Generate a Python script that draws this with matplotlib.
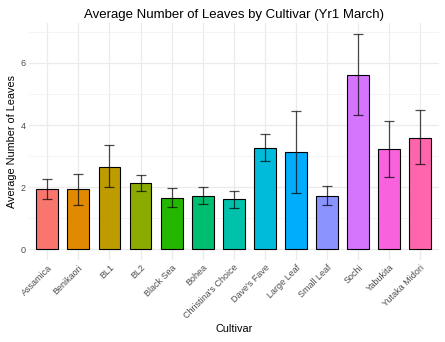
"""Average number of leaves by cultivar, bar chart with error bars"""
import numpy as np
from matplotlib import pyplot as plt

plt.rcParams['font.family'] = ['Liberation Sans', 'DejaVu Sans']

cultivars = ['Assamica', 'Benikaori', 'BL1', 'BL2', 'Black Sea', 'Bohea',
             "Christina's Choice", "Dave's Fave", 'Large Leaf', 'Small Leaf',
             'Sochi', 'Yabukita', 'Yutaka Midori']
mean_leaves = [1.94, 1.94, 2.66, 2.13, 1.66, 1.73, 1.61, 3.27, 3.13, 1.73, 5.61, 3.23, 3.59]
err_low = [1.61, 1.43, 2.01, 1.88, 1.38, 1.45, 1.34, 2.84, 1.83, 1.44, 4.32, 2.33, 2.76]
err_high = [2.26, 2.44, 3.35, 2.38, 1.97, 2.02, 1.88, 3.72, 4.45, 2.05, 6.92, 4.14, 4.47]
colors = ['#F8766D', '#E18A00', '#BE9C00', '#8CAB00', '#24B700', '#00BE70', '#00C1AB',
          '#00BBDA', '#00ACFC', '#8B93FF', '#D575FE', '#F962DD', '#FF65AC']

fig = plt.figure(figsize=(4.45, 3.42), dpi=100)
ax = fig.add_axes([0.0643, 0.239, 0.9222, 0.6926])

x = np.arange(len(cultivars))
mean = np.array(mean_leaves)
yerr = [mean - np.array(err_low), np.array(err_high) - mean]

ax.bar(x, mean, width=0.7, color=colors, edgecolor='black', linewidth=0.8, zorder=2)
ax.errorbar(x, mean, yerr=yerr, fmt='none', ecolor='black', alpha=0.7,
            elinewidth=0.9, capsize=3.3, capthick=0.9, zorder=3)

top = max(err_high)
ax.set_xlim(-0.6, len(cultivars) - 0.4)
ax.set_ylim(-0.05 * top, 1.05 * top)

ax.set_yticks([0, 2, 4, 6])
ax.set_yticks([1, 3, 5, 7], minor=True)
ax.set_xticks(x)
ax.set_xticklabels(cultivars, rotation=45, ha='right', rotation_mode='anchor')
ax.tick_params(axis='both', length=0, labelsize=6.5, labelcolor='#4D4D4D', pad=2)
ax.tick_params(which='minor', length=0)

ax.grid(True, which='major', color='#EBEBEB', linewidth=0.9, zorder=0)
ax.grid(True, which='minor', axis='y', color='#F2F2F2', linewidth=0.6, zorder=0)
ax.set_axisbelow(True)
for s in ax.spines.values():
    s.set_visible(False)

ax.set_title('Average Number of Leaves by Cultivar (Yr1 March)', fontsize=9.5, pad=4)
ax.set_xlabel('Cultivar', fontsize=7.8, labelpad=2)
ax.set_ylabel('Average Number of Leaves', fontsize=7.8, labelpad=3)

fig.savefig('out.png', dpi=100)
